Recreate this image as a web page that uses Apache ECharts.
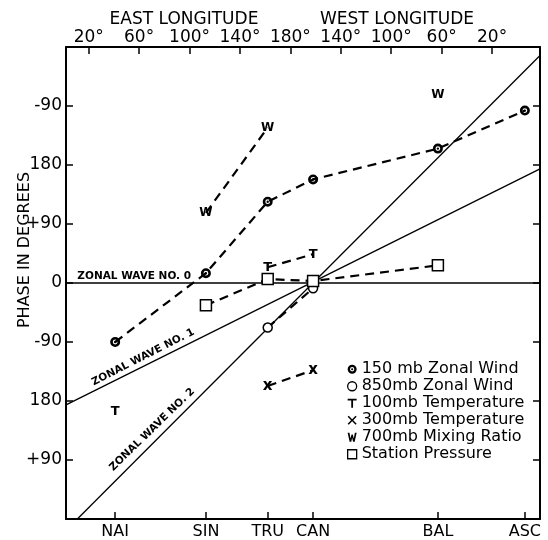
<!DOCTYPE html>
<html>
<head>
<meta charset="utf-8">
<script src="https://cdn.jsdelivr.net/npm/echarts@6/dist/echarts.min.js"></script>
<style>html,body{margin:0;padding:0;background:#fff}#c{width:548px;height:540px}</style>
</head>
<body>
<div id="c"></div>
<script>
// ---- data ----
var stations = ['NAI', 'SIN', 'TRU', 'CAN', 'BAL', 'ASC'];
var stationLon = [41, 113, 162, 198, 297, 366];
var topTicks = [20, 60, 100, 140, 180, 220, 260, 300, 340];
var topTickLabels = ['20°', '60°', '100°', '140°', '180°', '140°', '100°', '60°', '20°'];
var phaseTicks = [-270, -180, -90, 0, 90, 180, 270];
var phaseTickLabels = ['+90', '180', '-90', '0', '+90', '180', '-90'];

var wind150 = [-90, 15, 124, 158, 205, 263];
var wind850 = [null, null, -68, -8, null, null];
var temp100 = [-196, null, 24, 44, null, null];
var temp300 = [null, null, -157, -133, null, null];
var mix700 = [null, 107, 237, null, 287, null];
var pressure = [null, -34, 6, 3, 27, null];

var wave0 = [[2, 0], [378, 0]];
var wave1 = [[2, -186], [378, 174]];
var wave2 = [[11, -360], [378, 347]];

// ---- build ----
function pts(arr) { return stationLon.map(function (x, i) { return [x, arr[i]]; }); }
function nn(arr) { return pts(arr).filter(function (p) { return p[1] !== null; }); }

var FONT = 'DejaVu Sans';
var T_PATH = 'path://M0,0 H10 V2 H6 V10 H4 V2 H0 Z';
var X_PATH = 'path://M0,1.2 L1.2,0 L5,3.8 L8.8,0 L10,1.2 L6.2,5 L10,8.8 L8.8,10 L5,6.2 L1.2,10 L0,8.8 L3.8,5 Z';
var W_PATH = 'path://M0,0 L2,0 L3.2,6.5 L4.3,2 L5.7,2 L6.8,6.5 L8,0 L10,0 L7.8,10 L6,10 L5,5.5 L4,10 L2.2,10 Z';
var DOT_PATH = 'path://M0,50 A50,50 0 1,1 100,50 A50,50 0 1,1 0,50 Z M26,50 A24,24 0 1,0 74,50 A24,24 0 1,0 26,50 Z M38,50 A12,12 0 1,1 62,50 A12,12 0 1,1 38,50 Z';

var names = ['150 mb Zonal Wind', '850mb Zonal Wind', '100mb Temperature', '300mb Temperature', '700mb Mixing Ratio', 'Station Pressure'];
var sets = [wind150, wind850, temp100, temp300, mix700, pressure];
var syms = [DOT_PATH, 'circle', T_PATH, X_PATH, W_PATH, 'rect'];
var letters = [null, null, 'T', 'x', 'W', null];
var letterFont = [0, 0, 13, 15, 12];
var symSizes = [10, 9, 10, 10, 10, 11];
var fills = ['#000', '#fff', '#000', '#000', '#000', '#fff'];

var dash = { color: '#000', width: 2.2, type: [9, 6] };
var solid = { color: '#000', width: 1.3 };

var series = [];
[wave0, wave1, wave2].forEach(function (w, i) {
  series.push({ name: 'wave' + i, type: 'line', data: w, symbol: 'none', lineStyle: solid, silent: true, z: 2 });
});
sets.forEach(function (arr, i) {
  series.push({ name: names[i] + ' line', type: 'line', data: pts(arr), connectNulls: false, symbol: 'none', lineStyle: dash, silent: true, z: 3 });
});
sets.forEach(function (arr, i) {
  var s = {
    name: names[i], type: 'scatter', data: nn(arr), symbol: syms[i], symbolSize: symSizes[i], z: 5, silent: true,
    itemStyle: { color: fills[i], borderColor: '#000', borderWidth: (fills[i] === '#fff') ? 1.5 : 0, opacity: 1 }
  };
  if (letters[i]) {
    s.symbol = 'circle';
    s.itemStyle = { color: 'rgba(255,255,255,0)', borderWidth: 0, opacity: 1 };
    s.label = { show: true, position: 'inside', formatter: letters[i], color: '#000', fontSize: letterFont[i],
      fontWeight: 'bold', fontFamily: FONT };
  }
  series.push(s);
});

var legendData = names.map(function (n, i) {
  return {
    name: n, icon: syms[i],
    itemStyle: { color: fills[i], borderColor: '#000', borderWidth: (fills[i] === '#fff') ? 1.3 : 0, opacity: 1 }
  };
});

var chart = echarts.init(document.getElementById('c'), null, { renderer: 'canvas' });
var axisLine = { show: true, onZero: false, lineStyle: { color: '#000', width: 2 } };
var tickStyle = { color: '#000', width: 1.5 };
chart.setOption({
  animation: false,
  backgroundColor: '#fff',
  textStyle: { fontFamily: FONT },
  grid: { left: 66, right: 8, top: 47, bottom: 19, containLabel: false },
  xAxis: [
    {
      type: 'value', position: 'bottom', min: 2, max: 378,
      axisLine: axisLine, splitLine: { show: false },
      axisTick: { show: true, inside: true, length: 7, customValues: stationLon, lineStyle: tickStyle },
      axisLabel: { show: true, customValues: stationLon, margin: 5, color: '#000', fontSize: 16, fontFamily: FONT,
        formatter: function (v) { var i = stationLon.indexOf(v); return i >= 0 ? stations[i] : ''; } }
    },
    {
      type: 'value', position: 'top', min: 2, max: 378,
      axisLine: axisLine, splitLine: { show: false },
      axisTick: { show: true, inside: true, length: 7, customValues: topTicks, lineStyle: tickStyle },
      axisLabel: { show: true, customValues: topTicks, margin: 1, color: '#000', fontSize: 17, fontFamily: FONT,
        formatter: function (v) { var i = topTicks.indexOf(v); return i >= 0 ? topTickLabels[i] : ''; } }
    }
  ],
  yAxis: [
    {
      type: 'value', position: 'left', min: -360, max: 360, interval: 90,
      axisLine: axisLine, splitLine: { show: false },
      axisTick: { show: true, inside: true, length: 7, customValues: phaseTicks, lineStyle: tickStyle },
      axisLabel: { show: true, customValues: phaseTicks, margin: 4, color: '#000', fontSize: 17, fontFamily: FONT,
        formatter: function (v) { var i = phaseTicks.indexOf(v); return i >= 0 ? phaseTickLabels[i] : ''; } }
    },
    {
      type: 'value', position: 'right', min: -360, max: 360, interval: 90,
      axisLine: axisLine, splitLine: { show: false },
      axisTick: { show: true, inside: true, length: 7, customValues: phaseTicks, lineStyle: tickStyle },
      axisLabel: { show: false }
    }
  ],
  legend: {
    data: legendData, orient: 'vertical', left: 342, top: 356, selectedMode: false,
    itemWidth: 9, itemHeight: 9, itemGap: 0.5,
    textStyle: { color: '#000', fontSize: 16, fontFamily: FONT, lineHeight: 16.5 }
  },
  series: series
});

function px(x, y) { return chart.convertToPixel({ xAxisIndex: 0, yAxisIndex: 0 }, [x, y]); }
var p0 = px(11, 0), p1 = px(25, -163), p2 = px(41, -290);
chart.setOption({
  graphic: [
    { type: 'text', x: 184, y: 20, style: { text: 'EAST LONGITUDE', font: '17px ' + FONT, fill: '#000', align: 'center', verticalAlign: 'middle' } },
    { type: 'text', x: 397, y: 20, style: { text: 'WEST LONGITUDE', font: '17px ' + FONT, fill: '#000', align: 'center', verticalAlign: 'middle' } },
    { type: 'text', x: 25, y: 250, rotation: Math.PI / 2, style: { text: 'PHASE IN DEGREES', font: '16px ' + FONT, fill: '#000', align: 'center', verticalAlign: 'middle' } },
    { type: 'text', x: p0[0], y: p0[1] - 1, style: { text: 'ZONAL WAVE NO. 0', font: 'bold 10.5px ' + FONT, fill: '#000', verticalAlign: 'bottom' } },
    { type: 'text', x: p1[0], y: p1[1] - 2, rotation: 0.47, style: { text: 'ZONAL WAVE NO. 1', font: 'bold 10.5px ' + FONT, fill: '#000', verticalAlign: 'bottom' } },
    { type: 'text', x: p2[0], y: p2[1], rotation: 0.77, style: { text: 'ZONAL WAVE NO. 2', font: 'bold 10.5px ' + FONT, fill: '#000', verticalAlign: 'bottom' } }
  ]
});
</script>
</body>
</html>
